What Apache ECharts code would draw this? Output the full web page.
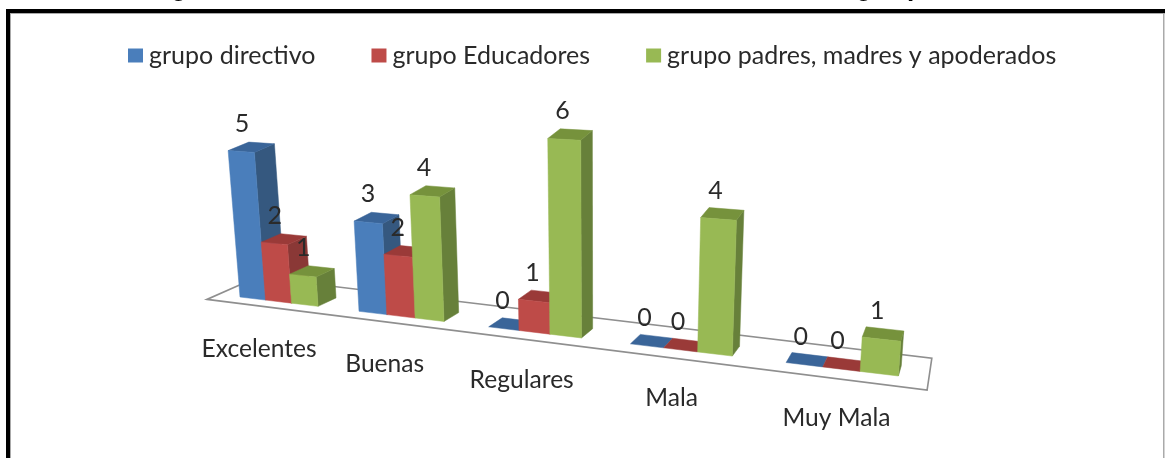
<!DOCTYPE html>
<html>
<head>
<meta charset="utf-8">
<style>html,body{margin:0;padding:0;background:#fff}#c{width:1165px;height:458px}</style>
<script src="https://cdn.jsdelivr.net/npm/echarts@6/dist/echarts.min.js"></script>
</head>
<body>
<div id="c"></div>
<script>
const categories = ['Excelentes', 'Buenas', 'Regulares', 'Mala', 'Muy Mala'];
const grupoDirectivo = [5, 3, 0, 0, 0];
const grupoEducadores = [2, 2, 1, 0, 0];
const grupoPadres = [1, 4, 6, 4, 1];
const seriesNames = ['grupo directivo', 'grupo Educadores', 'grupo padres, madres y apoderados'];
const seriesValues = [grupoDirectivo, grupoEducadores, grupoPadres];
const frontColors = ['#4a7ebb', '#be4b48', '#98b954'];
const sideColors = ['#35587f', '#8a3836', '#67803a'];
const topColors = ['#3a6599', '#9a3a38', '#76923c'];
const FONT = 'Lato, "Open Sans", sans-serif';
const TEXT = '#2a2a2a';

// Perspective of the 3-D floor: category position -> screen, depth towards the
// far vanishing point, height towards the vanishing point below the chart.
const BAR_W = 0.2217, PERSP = 0.041, DEPTH = 0.026, LIFT = 0.0064;
const depthVP = [1010, -20], heightVP = [599, 4725];
function project(c, d, units) {
  const fx = (240 + 104.3 * c) / (1 - PERSP * c);
  const fy = 297 + 0.12 * (fx - 240);
  const x = fx + d * DEPTH * (depthVP[0] - fx);
  const y = fy + d * DEPTH * (depthVP[1] - fy);
  const r = -LIFT * units / (1 - PERSP * c);
  const rho = r / (1 + r);
  return [x + rho * (heightVP[0] - x), y + rho * (heightVP[1] - y)];
}
function scaleOf(api, i, v) {
  const o = api.coord([0, 0]), p = api.coord([i, v]);
  return {
    c: (p[0] - o[0]) / api.size([1, 0])[0],
    units: (o[1] - p[1]) / api.size([0, 1])[1]
  };
}
function poly(points, fill, z2) {
  return { type: 'polygon', shape: { points }, z2, style: { fill, stroke: fill, lineWidth: 0.5 } };
}
function barRenderer(s) {
  return function (params, api) {
    const i = api.value(0), v = api.value(1);
    const m = scaleOf(api, i, v);
    const c0 = m.c + s * BAR_W, c1 = c0 + BAR_W, h = m.units;
    const z = i * 4 + s + 1;
    const kids = [];
    if (h > 0) {
      kids.push(poly([project(c1, 0, 0), project(c1, 1, 0), project(c1, 1, h), project(c1, 0, h)], sideColors[s], z));
      kids.push(poly([project(c0, 0, h), project(c1, 0, h), project(c1, 1, h), project(c0, 1, h)], topColors[s], z));
      kids.push(poly([project(c0, 0, 0), project(c1, 0, 0), project(c1, 0, h), project(c0, 0, h)], frontColors[s], z));
    } else {
      kids.push(poly([project(c0, 0, 0), project(c1, 0, 0), project(c1, 1, 0), project(c0, 1, 0)], topColors[s], z));
    }
    const t = project(c0 + BAR_W / 2, 0, h);
    kids.push({
      type: 'text', z2: 200,
      style: { x: t[0] - 2 + (600 - t[0]) * 0.008, y: t[1] - 28, text: String(v), fill: TEXT, font: '25px ' + FONT, align: 'center', verticalAlign: 'middle' }
    });
    return { type: 'group', children: kids };
  };
}
const floorCorners = [[-0.183, -0.6], [4.84, -1], [4.83, 2.05], [-0.2246, 2.05]];
const barSeries = seriesNames.map((name, s) => ({
  name, type: 'custom', silent: true, z: 3,
  itemStyle: { color: frontColors[s] },
  encode: { x: 0, y: 1 },
  data: seriesValues[s].map((v, i) => [i, v]),
  renderItem: barRenderer(s)
}));
const floorSeries = {
  name: 'piso', type: 'custom', silent: true, z: 1,
  encode: { x: 0, y: 1 },
  data: [[0, 0]],
  renderItem: function () {
    return {
      type: 'polygon',
      shape: { points: floorCorners.map(p => project(p[0], p[1], 0)) },
      style: { fill: '#fff', stroke: '#8f8f8f', lineWidth: 1.6 }
    };
  }
};
const labelSeries = {
  name: 'categorias', type: 'custom', silent: true, z: 4,
  encode: { x: 0, y: 1 },
  data: categories.map((n, i) => [i, 0]),
  renderItem: function (params, api) {
    const i = api.value(0), m = scaleOf(api, i, 0);
    const p = project(m.c + 0.33, -1, 0);
    return {
      type: 'text',
      style: { x: p[0], y: p[1] + 39, text: categories[i], fill: TEXT, font: '24.6px ' + FONT, align: 'center', verticalAlign: 'middle' }
    };
  }
};
const chart = echarts.init(document.getElementById('c'), null, { renderer: 'canvas' });
const titleFont = 'bold 26px "Liberation Sans", sans-serif';
chart.setOption({
  animation: false,
  backgroundColor: '#fff',
  legend: {
    data: seriesNames, top: 38, left: 123, icon: 'rect', itemWidth: 15, itemHeight: 14, itemGap: 56,
    selectedMode: false,
    textStyle: { fontFamily: FONT, fontSize: 25, color: TEXT, padding: [0, 0, 0, 1] }
  },
  grid: { left: 200, right: 200, top: 100, bottom: 100 },
  xAxis: { type: 'category', data: categories, show: false },
  yAxis: { type: 'value', min: 0, max: 6, interval: 1, show: false },
  series: [floorSeries].concat(barSeries, [labelSeries]),
  graphic: [
    { type: 'rect', silent: true, shape: { x: 6, y: 9, width: 1159, height: 4 }, style: { fill: '#000' } },
    { type: 'rect', silent: true, shape: { x: 6, y: 9, width: 4, height: 449 }, style: { fill: '#000' } },
    { type: 'rect', silent: true, shape: { x: 10, y: 13, width: 1155, height: 1 }, style: { fill: '#aaa' } },
    { type: 'rect', silent: true, shape: { x: 10, y: 14, width: 1, height: 444 }, style: { fill: '#aaa' } },
    { type: 'rect', silent: true, shape: { x: 1163, y: 14, width: 1.5, height: 444 }, style: { fill: '#aaa' } },
    { type: 'text', silent: true, style: { x: 171, y: -11, text: 'g', font: titleFont, fill: '#000', verticalAlign: 'middle' } },
    { type: 'text', silent: true, style: { x: 856, y: -11, text: 'g', font: titleFont, fill: '#000', verticalAlign: 'middle' } },
    { type: 'text', silent: true, style: { x: 907, y: -11, text: 'p', font: titleFont, fill: '#000', verticalAlign: 'middle' } }
  ]
});
</script>
</body>
</html>
